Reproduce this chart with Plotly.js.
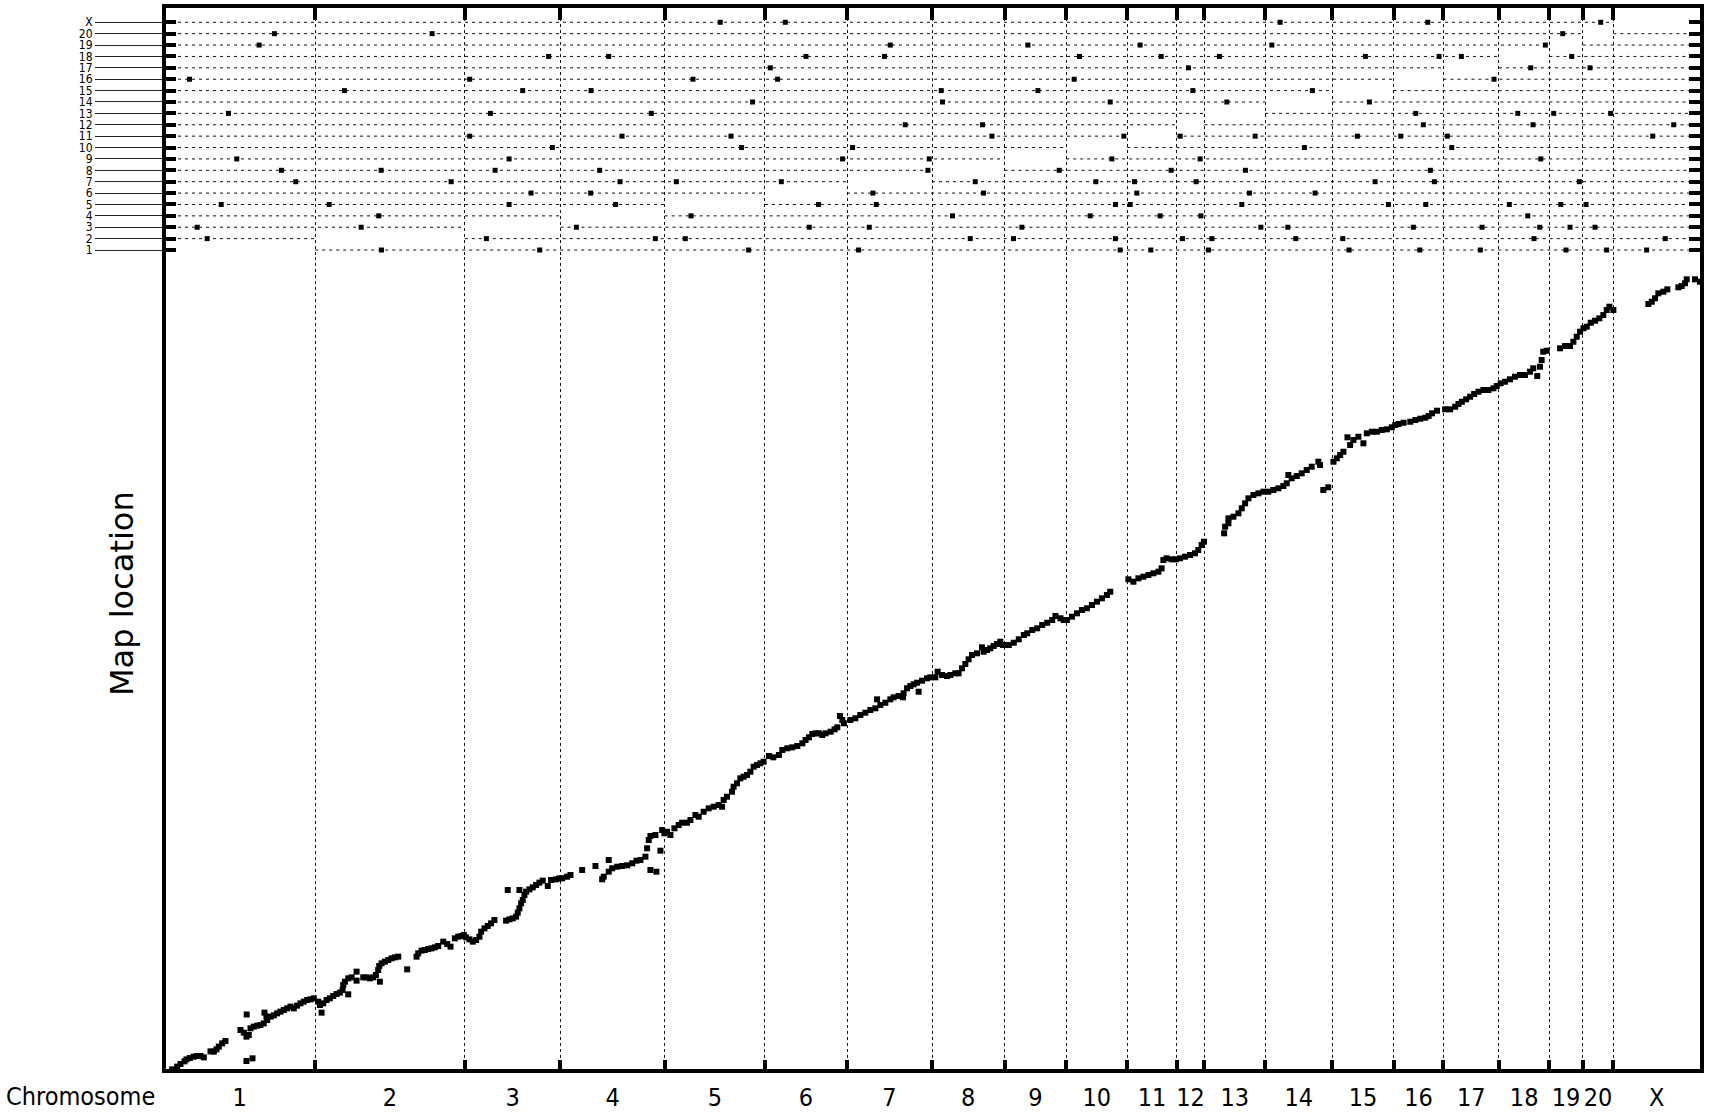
<!DOCTYPE html>
<html><head><meta charset="utf-8">
<script src="https://cdn.plot.ly/plotly-3.0.1.min.js"></script>
<style>html,body{margin:0;padding:0;background:#fff}#chart{width:1709px;height:1112px}</style>
</head><body><div id="chart"></div>
<script>
// Chromosomes (rat) and their lengths along the x axis (Mb)
const chromNames = ['1','2','3','4','5','6','7','8','9','10','11','12','13','14','15','16','17','18','19','20','X'];
const chromLengths = [267, 264, 169, 184, 177, 145, 150, 128, 109, 108, 87, 49, 107, 119, 108, 88, 98, 89, 59, 54, 153];

// Markers on the diagonal: [position within chromosome (Mb), map location]
const diag1 = [[14.4,1.3],[23.2,6.7],[29.1,12],[36.2,17.3],[39.7,21.3],[45.6,24],[52.7,26.7],[58.5,28],[64.4,28],[70.3,25.3],[82.1,37.3],[88,36.7],[92.7,41.3],[96.8,46.7],[102.7,53.3],[108.5,58],[135,80],[140.9,74.7],[145.6,66.7],[149.7,70],[152.7,83.3],[158.6,86.7],[164.4,88.7],[170.3,90],[176.2,93.3],[177.4,114.7],[180.9,106.7],[182.1,100],[188,106.7],[193.9,109.3],[199.7,113.3],[205.6,116.7],[211.5,120],[217.4,123.3],[223.3,126.7],[229.2,123.3],[235,128.7],[240.9,133.3],[246.8,136.7],[252.7,140],[258.6,141.3],[264.5,143.3],[146,111],[145.6,18],[156.2,23.3]];
const diag2 = [[5.3,136.7],[8.3,130],[11.2,114.7],[14.2,133.3],[20.1,140],[25.9,143.3],[31.8,148],[37.7,152],[43.6,154.7],[48.3,160],[49.5,170],[52.4,176.7],[58.3,183.3],[58.3,151.3],[64.2,185.3],[73,196.7],[73,178.7],[84.8,185.3],[90.7,185.3],[96.5,183.3],[102.4,185.3],[107.1,190],[111.2,200],[114.2,176.7],[113,208],[117.1,213.3],[123,216.7],[128.9,220],[134.8,223.3],[140.7,225.3],[146.6,226.7],[162.4,201.3],[178.9,226.7],[181.8,233.3],[187.7,238.7],[193.6,240],[199.5,242],[205.4,243.3],[211.3,245.3],[217.2,248],[226,256.7],[233,252],[238.9,246.7],[246.6,263.3],[252.5,266.7],[258.3,268],[262.5,270]];
const diag3 = [[2.4,265.3],[8.3,261.3],[14.2,256.7],[20.1,260],[25.9,266.7],[28.9,276.7],[34.8,283.3],[40.6,288],[46.5,293.3],[52.4,300],[73,298.7],[78.9,301.3],[84.8,303.3],[90.7,306.7],[93.6,314.7],[96.5,323.3],[99.5,333.3],[102.4,340],[105.4,350],[108.3,356.7],[114.2,361.3],[120.1,365.3],[126,370],[131.8,374.7],[137.7,378.7],[146.6,368],[152.4,380],[161.3,381.3],[167.1,383.3],[75.9,360],[96.5,360]];
const diag4 = [[3,383.4],[11.8,386.6],[17.7,390],[38.3,400],[61.8,408],[73.6,381.4],[76.4,386.6],[85.2,396.6],[85.2,420],[91.3,403.4],[100.1,406.6],[108.9,408],[117.7,409.4],[126.6,413.4],[134.1,418.6],[141.2,420],[150,426.6],[153,443.4],[155.8,460],[158.8,468],[167.7,470],[158.8,400],[169.4,396.6],[176.5,438.6],[179.5,480],[183.5,473.4]];
const diag5 = [[4.2,476.6],[10.1,470],[17.2,483.4],[24.7,490],[30.7,494.6],[39.5,494.6],[45.4,500],[54.2,510],[60,506.6],[68.8,516.6],[77.7,523.4],[86.5,526.6],[95.3,530],[101.3,526.6],[104.1,540],[110,546.6],[118.9,556.6],[121.7,566.6],[127.7,573.4],[133.6,583.4],[139.4,586.6],[145.4,590],[151.3,596.6],[157.1,606.6],[163.1,610],[169,613.4],[174.7,616.6]];
const diag6 = [[7.1,628],[14.8,625.4],[24.7,630],[30.7,640],[39.5,643.4],[48.4,645.4],[57.2,648],[66,653.4],[71.8,660],[77.7,665.4],[83.6,672],[89.5,673.4],[95.3,673.4],[101.3,670],[107.1,673.4],[116,676.6],[123,681.4],[127.8,685.4],[132.4,708],[136.6,700],[139.4,693.4]];
const diag7 = [[5.8,700],[14.6,703.4],[23.5,710],[32.3,714.6],[41.1,720],[50,723.4],[53,741.4],[58.8,730],[67.6,734.6],[76.4,741.4],[82.2,745.4],[91.1,748],[98.8,745.4],[99.9,753.4],[105.9,763.4],[111.7,768],[117.6,771.4],[123.6,774.6],[126.4,756.6],[132.4,778.6],[141.2,783.4],[147,785.4]];
const diag8 = [[5.8,785.4],[9.9,796.6],[17.7,790],[26.5,788],[32.3,790],[41.1,793.4],[47,793.4],[53,803.4],[58.8,812],[64.6,821.4],[70.6,830],[79.4,833.4],[88.3,845.4],[91.1,836.6],[97.1,840],[102.9,843.4],[108.8,848],[114.8,852],[120.6,856.6],[125.4,850]];
const diag9 = [[7.6,850],[16.4,854.6],[25.2,861.4],[34.1,870],[40.1,873.4],[48.9,880],[57.7,883.4],[66.5,890],[75.4,894.6],[84.2,900],[90,908],[98.8,903.4],[104.7,900]];
const diag10 = [[1.2,900],[10.1,906.6],[18.9,913.4],[27.7,920],[36.5,923.4],[45.4,930],[54.2,936.6],[63,943.4],[71.8,950],[77.7,956.6]];
const diag11 = [[1.8,981.4],[10.6,976.6],[19.4,983.4],[28.2,986.6],[37.1,990],[45.9,993.4],[54.7,996.6],[60.4,1003.4],[63.5,1020],[69.2,1023.4],[78,1021.4],[85.6,1021.4]];
const diag12 = [[5.8,1023.4],[14.6,1026.6],[23.5,1030],[32.3,1033.4],[38.1,1040],[44.1,1050],[48.2,1056.6]];
const diag13 = [[34.8,1073.4],[36.5,1086.6],[42.4,1093.4],[42.4,1103.4],[51.2,1106.6],[60,1113.4],[65.9,1123.4],[71.8,1133.4],[77.7,1143.4],[86.5,1150],[95.3,1153.4],[104.1,1156.6]];
const diag14 = [[5.8,1156.6],[14.6,1160],[23.5,1163.4],[32.3,1168],[38.3,1173.4],[41.1,1190],[47.1,1183.4],[56,1188],[64.8,1193.4],[73.6,1200],[82.4,1206.6],[94.1,1216.6],[97.1,1210],[102.9,1160],[111.7,1165.4]];
const diag15 = [[1.8,1216.6],[7.8,1223.4],[13.6,1230],[19.4,1236.6],[26.5,1265.4],[31.2,1250],[37.1,1260],[45.9,1266.6],[54.7,1253.4],[60.7,1273.4],[69.5,1276.6],[78.4,1276.6],[87.2,1280],[96,1281.4],[104.8,1285.4]];
const diag16 = [[3,1290],[8.8,1292],[17.7,1294.6],[29.5,1296.6],[38.3,1300],[47.1,1302.6],[55.9,1304.6],[61.8,1308],[67.8,1313.4],[76.6,1318.6]];
const diag17 = [[3,1321.4],[11.8,1321.4],[20.7,1326.6],[26.5,1332],[32.5,1336.6],[40.1,1341.4],[47.1,1346.6],[54.2,1352],[61.8,1356.6],[70.6,1360],[79.4,1360],[88.3,1363.4],[94.1,1368]];
const diag18 = [[3,1373.4],[10.6,1376.6],[19.4,1381.4],[28.2,1386.6],[37.1,1390],[45.9,1390],[54.7,1396.6],[60.5,1403.4],[67.6,1388],[72.4,1406.6],[75.4,1420],[78.2,1436.6],[84.2,1438.6]];
const diag19 = [[18.9,1443.4],[27.7,1448],[36.5,1448],[42.4,1456.6],[48.4,1466.6],[54.2,1476.6]];
const diag20 = [[1.1,1483.4],[7.1,1486.6],[14.1,1494.6],[21.7,1498.6],[29.3,1503.4],[36.3,1510],[42.3,1520],[46.9,1526.6],[54,1520]];
const diagX = [[61.8,1532],[67.8,1536.6],[73.6,1543.4],[79.4,1553.4],[88.3,1556.6],[95.3,1561.4],[114.7,1565.4],[120.6,1568],[126.5,1573.4],[129.5,1581.4],[144.1,1581.4],[152.9,1576.6]];
const diagByChrom = [diag1,diag2,diag3,diag4,diag5,diag6,diag7,diag8,diag9,diag10,diag11,diag12,diag13,diag14,diag15,diag16,diag17,diag18,diag19,diag20,diagX];

// Markers mapped to chromosome N but located elsewhere: genome position (Mb)
const off1 = [383.9, 663.3, 1032.2, 1226.3, 1688.2, 1742.4, 1844.1, 2092.4, 2217.2, 2324.2, 2475.4, 2547.2, 2617.8];
const off2 = [76.2, 569.2, 867.5, 920.4, 1423.5, 1499.9, 1679.9, 1798.2, 1850.1, 1998.3, 2081.3, 2418.9, 2650.7];
const off3 = [58.6, 348.1, 728.1, 1139.3, 1245.2, 1514.7, 1936.6, 1984.2, 2205.9, 2327.2, 2429, 2482.5, 2526.6];
const off4 = [379.1, 930.5, 1392.2, 1635.3, 1758.8, 1830.7, 2407.8];
const off5 = [101, 291.6, 609.3, 797.4, 1155.7, 1257.6, 1679.9, 1705.9, 1903, 2161.8, 2227.8, 2375.3, 2466.1, 2510.7];
const off6 = [648.1, 753.3, 1251.7, 1447, 1717.7, 1916.4, 2032.4];
const off7 = [232.6, 506.9, 805.2, 904.6, 1089.9, 1432.3, 1645.3, 1713.5, 1822.4, 2138.3, 2243, 2498.9];
const off8 = [207.4, 383.4, 584.6, 769.2, 1348.8, 1580.6, 1778.2, 1909.4, 2235.9];
const off9 = [128.5, 609.3, 1198.1, 1351.1, 1673.6, 1829.4, 2430.8];
const off10 = [685.7, 1019.8, 1215.7, 2013.5, 2273.7];
const off11 = [539.7, 808.7, 1001.1, 1461.8, 1694.8, 1794.1, 1926.5, 2107.1, 2183.7, 2265.9, 2628.4];
const off12 = [1308.7, 1445.2, 2223.5, 2417.2, 2665.5];
const off13 = [113.8, 576.3, 860.4, 2210.1, 2390.2, 2453.7, 2554.3];
const off14 = [1039.2, 1374.6, 1670.6, 1876.5, 2128.2];
const off15 = [318.6, 633.3, 754, 1372.3, 1543, 1816.5, 2027.6];
const off16 = [45, 539.7, 934, 1083.4, 1607, 2348.3];
const off17 = [1070.5, 1808.8, 2413.1, 2517.8];
const off18 = [679.2, 785.1, 1133.5, 1272.2, 1616.4, 1760.6, 1863.5, 2121.2, 2251.3, 2290.6, 2485.5];
const off19 = [168, 1282.3, 1525.3, 1723.5, 1956, 2438.9];
const off20 = [195, 473.4, 2469.6];
const offX = [982.2, 1097, 1970.6, 2231.3, 2536.7];
const offByRow = [off1,off2,off3,off4,off5,off6,off7,off8,off9,off10,off11,off12,off13,off14,off15,off16,off17,off18,off19,off20,offX];

// ---- derived ----
const starts = []; let acc = 0;
chromLengths.forEach(l => { starts.push(acc); acc += l; });
const genomeEnd = acc;
const boundaries = starts.slice(1);
const mids = starts.map((s, i) => s + chromLengths[i] / 2);
const rows = chromNames.map((_, i) => i + 1);

const dX = [], dY = [];
diagByChrom.forEach((pts, i) => pts.forEach(([p, m]) => { dX.push(starts[i] + p); dY.push(m); }));
const bX = [], bY = [];
offByRow.forEach((arr, i) => arr.forEach(g => { bX.push(g); bY.push(i + 1); }));
const lX = [], lY = [];
rows.forEach((r, i) => {
  lX.push(0, starts[i], null, starts[i] + chromLengths[i], genomeEnd, null);
  lY.push(r, r, null, r, r, null);
});

const xRange = [0, 2715.5];
const bandRange = [0.385, 22.43];
const mainTop = 0.7643;
const FONT = 'DejaVu Sans Condensed, Liberation Sans, sans-serif';

const traces = [
  {type:'scatter', mode:'lines', x:lX, y:lY, xaxis:'x2', yaxis:'y2', connectgaps:false,
   line:{color:'#111', width:1, dash:'3px,4px'}, hoverinfo:'skip'},
  {type:'scatter', mode:'markers', x:bX, y:bY, xaxis:'x2', yaxis:'y2',
   marker:{symbol:'square', size:5, color:'#000'}},
  {type:'scatter', mode:'markers', x:dX, y:dY, xaxis:'x', yaxis:'y',
   marker:{symbol:'square', size:6, color:'#000'}},
  {type:'scatter', x:[], y:[], xaxis:'x3', yaxis:'y'},
  {type:'scatter', x:[], y:[], xaxis:'x2', yaxis:'y3'},
  {type:'scatter', x:[], y:[], xaxis:'x2', yaxis:'y4'}
];

const tickCommon = {tickmode:'array', showgrid:false, zeroline:false, showline:false, fixedrange:true};
const layout = {
  width:1709, height:1112,
  margin:{l:164, r:7, t:6, b:41},
  paper_bgcolor:'#fff', plot_bgcolor:'#fff', showlegend:false,
  font:{family:FONT, color:'#000'},
  xaxis:Object.assign({}, tickCommon, {domain:[0,1], anchor:'y', range:xRange, tickvals:boundaries,
    ticks:'inside', ticklen:11, tickwidth:4, tickcolor:'#000', showticklabels:false,
    showgrid:true, gridcolor:'#111', gridwidth:1, griddash:'3px,3px'}),
  xaxis2:Object.assign({}, tickCommon, {domain:[0,1], anchor:'y2', side:'top', range:xRange, tickvals:boundaries,
    ticks:'inside', ticklen:14, tickwidth:4, tickcolor:'#000', showticklabels:false,
    showgrid:true, gridcolor:'#111', gridwidth:1, griddash:'3px,3px'}),
  xaxis3:Object.assign({}, tickCommon, {overlaying:'x', anchor:'y', side:'bottom', range:xRange, tickvals:mids, ticktext:chromNames,
    ticks:'', tickangle:0, tickfont:{size:25, family:FONT}, ticklabelstandoff:9, automargin:false}),
  yaxis:Object.assign({}, tickCommon, {domain:[0, mainTop], anchor:'x', range:[-2, 1626], showticklabels:false, ticks:''}),
  yaxis2:Object.assign({}, tickCommon, {domain:[mainTop, 1], anchor:'x2', range:bandRange, tickvals:rows, ticktext:chromNames,
    ticks:'outside', ticklen:68, tickwidth:1, tickcolor:'#222', tickfont:{size:12, family:FONT}}),
  yaxis3:Object.assign({}, tickCommon, {overlaying:'y2', anchor:'x2', side:'left', range:bandRange, tickvals:rows,
    ticks:'inside', ticklen:12, tickwidth:4, tickcolor:'#000', showticklabels:false}),
  yaxis4:Object.assign({}, tickCommon, {overlaying:'y2', anchor:'x2', side:'right', range:bandRange, tickvals:rows,
    ticks:'inside', ticklen:13, tickwidth:4, tickcolor:'#000', showticklabels:false}),
  shapes:[{type:'rect', xref:'paper', yref:'paper', x0:0, x1:1, y0:0, y1:1, line:{color:'#000', width:4}, layer:'above'}],
  annotations:[
    {text:'Map location', xref:'paper', yref:'paper', x:-0.0273, y:0.4479, xanchor:'center', yanchor:'middle',
     textangle:-90, showarrow:false, font:{size:32, family:'DejaVu Sans, sans-serif', color:'#000'}},
    {text:'Chromosome', xref:'paper', yref:'paper', x:-0.0545, y:-0.0244, xanchor:'center', yanchor:'middle',
     showarrow:false, font:{size:25, family:FONT, color:'#000'}}
  ]
};
Plotly.newPlot('chart', traces, layout, {displayModeBar:false, staticPlot:true});
</script></body></html>
